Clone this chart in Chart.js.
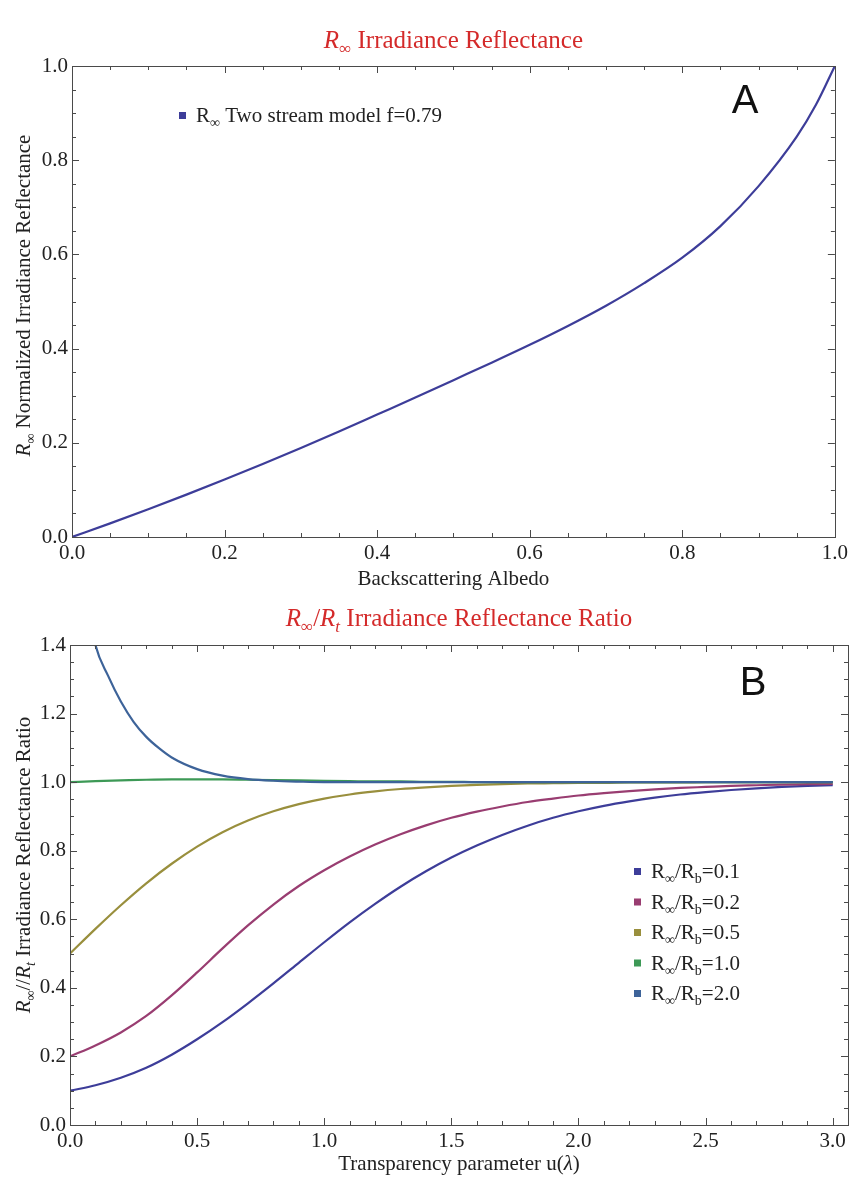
<!DOCTYPE html>
<html>
<head>
<meta charset="utf-8">
<script src="https://cdn.jsdelivr.net/npm/chart.js@4.4.1/dist/chart.umd.min.js"></script>
<style>
  html, body { margin: 0; padding: 0; background: #fff; }
  #wrap { position: relative; width: 852px; height: 1182px; }
  .box { position: absolute; left: 0; width: 852px; }
  #boxA { top: 0; height: 600px; }
  #boxB { top: 600px; height: 582px; }
</style>
</head>
<body>
<div id="wrap">
  <div class="box" id="boxA"><canvas id="reflectanceChart"></canvas></div>
  <div class="box" id="boxB"><canvas id="ratioChart"></canvas></div>
</div>
<script>
// ---- panel A: R-infinity vs backscattering albedo (two stream, f=0.79)
const albedo = [0, 0.05, 0.1, 0.15, 0.2, 0.25, 0.3, 0.35, 0.4, 0.45, 0.5, 0.55,
                0.6, 0.65, 0.7, 0.75, 0.8, 0.85, 0.9, 0.95, 0.975, 1.0];
const rInfinity = [0, 0.029, 0.059, 0.09, 0.122, 0.155, 0.189, 0.224, 0.26, 0.296, 0.333, 0.37,
                   0.408, 0.448, 0.491, 0.539, 0.593, 0.66, 0.745, 0.85, 0.917, 1.0];
const albedoTicks = [0, 0.2, 0.4, 0.6, 0.8, 1.0];
const reflTicks = [0, 0.2, 0.4, 0.6, 0.8, 1.0];

// ---- panel B: R-infinity / Rt vs transparency parameter u(lambda)
const uValues = [0, 0.1, 0.2, 0.3, 0.4, 0.5, 0.6, 0.7, 0.8, 0.9, 1.0,
                 1.1, 1.2, 1.3, 1.4, 1.5, 1.6, 1.7, 1.8, 1.9, 2.0,
                 2.1, 2.2, 2.3, 2.4, 2.5, 2.6, 2.7, 2.8, 2.9, 3.0];
const ratio01 = [0.100, 0.116, 0.138, 0.167, 0.205, 0.250, 0.300, 0.355, 0.413, 0.473, 0.533,
                 0.591, 0.645, 0.695, 0.740, 0.780, 0.815, 0.846, 0.873, 0.896, 0.915,
                 0.931, 0.944, 0.955, 0.964, 0.971, 0.977, 0.982, 0.986, 0.989, 0.991];
const ratio02 = [0.200, 0.232, 0.270, 0.318, 0.378, 0.445, 0.515, 0.582, 0.643, 0.697, 0.743,
                 0.783, 0.818, 0.848, 0.874, 0.896, 0.914, 0.929, 0.942, 0.952, 0.961,
                 0.968, 0.974, 0.979, 0.983, 0.986, 0.989, 0.991, 0.993, 0.994, 0.995];
const ratio05 = [0.500, 0.572, 0.641, 0.705, 0.762, 0.812, 0.854, 0.888, 0.915, 0.936, 0.952,
                 0.964, 0.973, 0.980, 0.985, 0.989, 0.992, 0.994, 0.996, 0.997, 0.998,
                 0.998, 0.999, 0.999, 0.999, 1.000, 1.000, 1.000, 1.000, 1.000, 1.000];
const ratio10 = [1.000, 1.003, 1.005, 1.007, 1.008, 1.008, 1.008, 1.007, 1.006, 1.005, 1.004,
                 1.003, 1.002, 1.002, 1.001, 1.001, 1.000, 1.000, 1.000, 1.000, 1.000,
                 1.000, 1.000, 1.000, 1.000, 1.000, 1.000, 1.000, 1.000, 1.000, 1.000];
// the 2.0 curve drops fast near u=0, so it gets a finer grid there
const uFine = [0, 0.05, 0.1, 0.15, 0.2, 0.25, 0.3, 0.35, 0.4, 0.5, 0.6, 0.7, 0.8, 0.9, 1.0, 1.5, 2.0, 2.5, 3.0];
const ratio20 = [2.000, 1.600, 1.400, 1.310, 1.235, 1.176, 1.132, 1.099, 1.072, 1.038, 1.019, 1.009, 1.004, 1.0015, 1.000,
                 1.000, 1.000, 1.000, 1.000];
const ratioX = [uValues, uValues, uValues, uValues, uFine];
const ratioSeries = [ratio01, ratio02, ratio05, ratio10, ratio20];
const ratioNames = ['0.1', '0.2', '0.5', '1.0', '2.0'];
const uTicks = [0, 0.5, 1.0, 1.5, 2.0, 2.5, 3.0];
const ratioTicks = [0, 0.2, 0.4, 0.6, 0.8, 1.0, 1.2, 1.4];

const seriesColors = ['#3d3d99', '#993d71', '#998f3d', '#3d9956', '#3d6399'];
const SERIF = '"Liberation Serif", "Times New Roman", serif';
const FRAME = '#4a4a4a';

// text pieces: [string, style] where style has 'i' italic, 's' subscript
function richFont(st, size) {
  return (st.includes('i') ? 'italic ' : '') + (st.includes('s') ? Math.round(size * 0.68) : size) + 'px ' + SERIF;
}
function richWidth(ctx, parts, size) {
  let w = 0;
  for (const [t, st] of parts) { ctx.font = richFont(st, size); w += ctx.measureText(t).width; }
  return w;
}
function drawRich(ctx, parts, x, y, size, align, color) {
  const w = richWidth(ctx, parts, size);
  let cx = align === 'center' ? x - w / 2 : (align === 'right' ? x - w : x);
  ctx.fillStyle = color;
  ctx.textAlign = 'left';
  ctx.textBaseline = 'alphabetic';
  for (const [t, st] of parts) {
    ctx.font = richFont(st, size);
    ctx.fillText(t, cx, y + (st.includes('s') ? size * 0.24 : 0));
    cx += ctx.measureText(t).width;
  }
}

// Mathematica-like frame with inward ticks on all four sides
const frameTicks = {
  id: 'frameTicks',
  afterDatasetsDraw(chart, args, opts) {
    const { ctx, chartArea: a, scales: { x, y } } = chart;
    ctx.save();
    ctx.strokeStyle = FRAME;
    ctx.lineWidth = 1;
    ctx.strokeRect(Math.round(a.left) + 0.5, Math.round(a.top) + 0.5,
                   Math.round(a.width), Math.round(a.height));
    ctx.beginPath();
    const nx = Math.round(x.max / opts.xMinor + 1e-6);
    for (let i = 0; i <= nx; i++) {
      const px = Math.round(x.getPixelForValue(i * opts.xMinor)) + 0.5;
      if (px > a.right) break;
      const len = i % opts.xEvery === 0 ? 7 : 4;
      ctx.moveTo(px, a.bottom); ctx.lineTo(px, a.bottom - len);
      ctx.moveTo(px, a.top); ctx.lineTo(px, a.top + len);
    }
    const ny = Math.round(y.max / opts.yMinor + 1e-6);
    for (let i = 0; i <= ny; i++) {
      const py = Math.round(y.getPixelForValue(i * opts.yMinor)) + 0.5;
      const len = i % opts.yEvery === 0 ? 7 : 4;
      ctx.moveTo(a.left, py); ctx.lineTo(a.left + len, py);
      ctx.moveTo(a.right, py); ctx.lineTo(a.right - len, py);
    }
    ctx.stroke();
    ctx.restore();
  }
};

// titles, axis titles, panel letter and the in-plot legend
const panelText = {
  id: 'panelText',
  afterDraw(chart, args, o) {
    const { ctx, chartArea: a } = chart;
    const midX = (a.left + a.right) / 2;
    ctx.save();
    drawRich(ctx, o.title, midX, o.titleY, 25, 'center', '#d42a2a');
    drawRich(ctx, o.xTitle, midX, o.xTitleY, 21, 'center', '#222');
    ctx.save();
    ctx.translate(o.yTitleX, (a.top + a.bottom) / 2 + o.yTitleShift);
    ctx.rotate(-Math.PI / 2);
    drawRich(ctx, o.yTitle, 0, 0, 21, 'center', '#222');
    ctx.restore();
    ctx.fillStyle = '#111';
    ctx.font = '40px "Liberation Sans", Arial, sans-serif';
    ctx.textAlign = 'center';
    ctx.textBaseline = 'alphabetic';
    ctx.fillText(o.letter, o.letterX, o.letterY);
    chart.data.datasets.forEach((ds, i) => {
      const cy = o.legendY + i * o.legendGap;
      ctx.fillStyle = ds.borderColor;
      ctx.fillRect(o.legendX - 3, cy - 3, 7, 7);
      drawRich(ctx, o.legendParts[i], o.legendX + 14, cy + 7, 21, 'left', '#222');
    });
    ctx.restore();
  }
};

function toPoints(xs, ys) { return xs.map((v, i) => ({ x: v, y: ys[i] })); }

function axis(min, max, ticks, size) {
  return {
    type: 'linear', min, max,
    grid: { display: false, drawTicks: false },
    border: { display: false },
    afterBuildTicks: s => { s.ticks = ticks.map(v => ({ value: v })); },
    afterFit: size,
    ticks: {
      padding: 4,
      color: '#222',
      font: { family: SERIF, size: 21 },
      callback: v => v.toFixed(1)
    }
  };
}

const lineStyle = { pointRadius: 0, borderWidth: 2.2, cubicInterpolationMode: 'monotone', fill: false };

new Chart(document.getElementById('reflectanceChart'), {
  type: 'line',
  data: {
    datasets: [{
      label: 'R∞ Two stream model f=0.79',
      data: toPoints(albedo, rInfinity),
      borderColor: seriesColors[0],
      ...lineStyle
    }]
  },
  options: {
    responsive: true,
    maintainAspectRatio: false,
    animation: false,
    layout: { padding: { left: 0, right: 16, top: 66, bottom: 0 } },
    scales: {
      x: axis(0, 1, albedoTicks, s => { s.height = 63; }),
      y: axis(0, 1, reflTicks, s => { s.width = 72; })
    },
    plugins: {
      legend: { display: false },
      tooltip: { enabled: false },
      frameTicks: { xMinor: 0.05, xEvery: 4, yMinor: 0.05, yEvery: 4 },
      panelText: {
        title: [['R', 'i'], ['∞', 's'], [' Irradiance Reflectance', '']],
        titleY: 48,
        xTitle: [['Backscattering Albedo', '']],
        xTitleY: 585,
        yTitle: [['R', 'i'], ['∞', 's'], [' Normalized Irradiance Reflectance', '']],
        yTitleX: 30,
        yTitleShift: -6,
        letter: 'A', letterX: 745, letterY: 113,
        legendX: 182, legendY: 115, legendGap: 30,
        legendParts: [[['R', ''], ['∞', 's'], [' Two stream model f=0.79', '']]]
      }
    }
  },
  plugins: [frameTicks, panelText]
});

new Chart(document.getElementById('ratioChart'), {
  type: 'line',
  data: {
    // later curves are drawn on top of earlier ones
    datasets: ratioSeries.map((vals, i) => ({
      label: 'R∞/Rb=' + ratioNames[i],
      data: toPoints(ratioX[i], vals),
      borderColor: seriesColors[i],
      order: -i,
      ...lineStyle
    }))
  },
  options: {
    responsive: true,
    maintainAspectRatio: false,
    animation: false,
    layout: { padding: { left: 0, right: 4, top: 45, bottom: 0 } },
    scales: {
      x: axis(0, 3.06, uTicks, s => { s.height = 57; }),
      y: axis(0, 1.4, ratioTicks, s => { s.width = 70; })
    },
    plugins: {
      legend: { display: false },
      tooltip: { enabled: false },
      frameTicks: { xMinor: 0.1, xEvery: 5, yMinor: 0.05, yEvery: 4 },
      panelText: {
        title: [['R', 'i'], ['∞', 's'], ['/', ''], ['R', 'i'], ['t', 'is'], [' Irradiance Reflectance Ratio', '']],
        titleY: 26,
        xTitle: [['Transparency parameter u(', ''], ['λ', 'i'], [')', '']],
        xTitleY: 570,
        yTitle: [['R', 'i'], ['∞', 's'], ['//', ''], ['R', 'i'], ['t', 'is'], [' Irradiance Reflectance Ratio', '']],
        yTitleX: 30,
        yTitleShift: -20,
        letter: 'B', letterX: 753, letterY: 95,
        legendX: 637, legendY: 271, legendGap: 30.5,
        legendParts: ratioNames.map(n => [['R', ''], ['∞', 's'], ['/R', ''], ['b', 's'], ['=' + n, '']])
      }
    }
  },
  plugins: [frameTicks, panelText]
});
</script>
</body>
</html>
